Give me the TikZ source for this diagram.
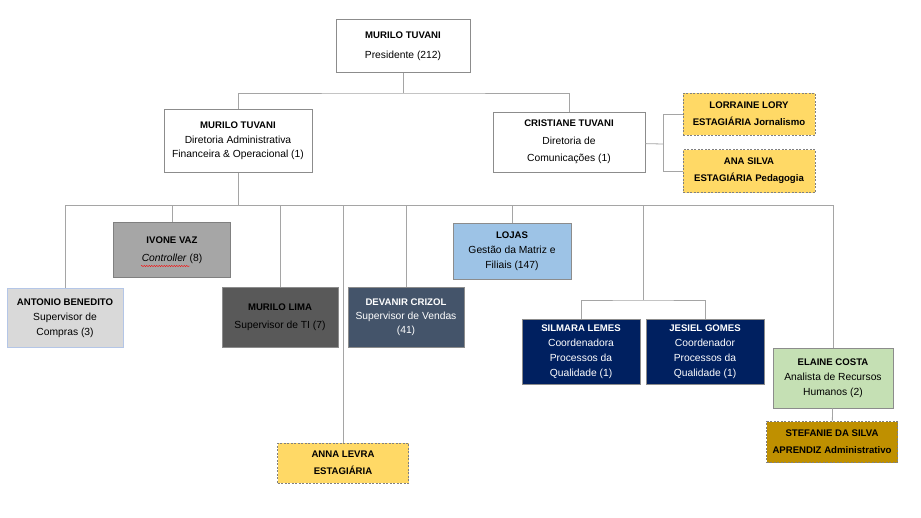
\documentclass[tikz,border=0pt]{standalone}
\usepackage{fontspec}
\setmainfont{Liberation Sans}
\usetikzlibrary{decorations.pathmorphing}
\definecolor{linegray}{HTML}{A5A5A5}
\definecolor{boxgray}{HTML}{8C8C8C}
\definecolor{compras}{HTML}{D9D9D9}
\definecolor{comprasedge}{HTML}{B4C6E7}
\definecolor{controller}{HTML}{A6A6A6}
\definecolor{ti}{HTML}{595959}
\definecolor{vendas}{HTML}{44546A}
\definecolor{lojas}{HTML}{9DC3E6}
\definecolor{qualidade}{HTML}{002060}
\definecolor{rh}{HTML}{C5E0B4}
\definecolor{aprendiz}{HTML}{BF9000}
\definecolor{estagio}{HTML}{FFD966}
\newcommand\nome[1]{{\fontsize{9.6}{16}\selectfont\bfseries #1}}
\begin{document}
\begin{tikzpicture}[x=1pt,y=-1pt,
    link/.style={draw=linegray, line width=0.8pt},
    card/.style={draw=boxgray, line width=0.9pt, align=center, inner sep=1pt,
        font=\fontsize{10.3}{16}\selectfont},
    temp/.style={card, draw=gray, fill=estagio, dash pattern=on 2pt off 1.5pt,
        font=\fontsize{9.6}{17}\selectfont\bfseries}]
    \useasboundingbox (0,0) rectangle (921,517);

    \node[card, fill=white, minimum width=134pt, minimum height=53pt, font=\fontsize{10.3}{20}\selectfont]
        (pres) at (403,46) {\nome{MURILO TUVANI}\\Presidente (212)};
    \node[card, fill=white, minimum width=148pt, minimum height=63pt, font=\fontsize{10.3}{14.5}\selectfont]
        (dirAdm) at (238,141) {\nome{MURILO TUVANI}\\Diretoria Administrativa\\Financeira \& Operacional (1)};
    \node[card, fill=white, minimum width=152pt, minimum height=60pt, font=\fontsize{10.3}{17.5}\selectfont]
        (dirCom) at (569,142) {\nome{CRISTIANE TUVANI}\\Diretoria de\\Comunicações (1)};
    \node[temp, minimum width=132pt, minimum height=42pt]
        (lorraine) at (749,114) {LORRAINE LORY\\ESTAGIÁRIA Jornalismo};
    \node[temp, minimum width=132pt, minimum height=43pt]
        (anaSilva) at (749,171) {ANA SILVA\\ESTAGIÁRIA Pedagogia};

    \node[card, draw=comprasedge, fill=compras, minimum width=116pt, minimum height=59pt, font=\fontsize{10.3}{15}\selectfont]
        (antonio) at (65,318) {\nome{ANTONIO BENEDITO}\\Supervisor de\\Compras (3)};
    \node[card, draw=gray, fill=controller, minimum width=117pt, minimum height=55pt, font=\fontsize{10.3}{18}\selectfont]
        (ivone) at (172,250) {\nome{IVONE VAZ}\\\textit{Controller} (8)};
    \node[card, fill=ti, minimum width=116pt, minimum height=60pt, font=\fontsize{10.3}{18}\selectfont]
        (muriloLima) at (280,317) {\nome{MURILO LIMA}\\Supervisor de TI (7)};
    \node[card, fill=vendas, text=white, minimum width=116pt, minimum height=60pt, font=\fontsize{10.3}{14}\selectfont]
        (devanir) at (406,317) {\nome{DEVANIR CRIZOL}\\Supervisor de Vendas\\(41)};
    \node[card, fill=lojas, minimum width=118pt, minimum height=56pt, font=\fontsize{10.3}{15}\selectfont]
        (lojas) at (512,251) {\nome{LOJAS}\\Gestão da Matriz e\\Filiais (147)};
    \node[card, fill=qualidade, text=white, minimum width=118pt, minimum height=65pt, font=\fontsize{10.3}{15}\selectfont]
        (silmara) at (581,352) {\nome{SILMARA LEMES}\\Coordenadora\\Processos da\\Qualidade (1)};
    \node[card, fill=qualidade, text=white, minimum width=118pt, minimum height=65pt, font=\fontsize{10.3}{15}\selectfont]
        (jesiel) at (705,352) {\nome{JESIEL GOMES}\\Coordenador\\Processos da\\Qualidade (1)};
    \node[card, fill=rh, minimum width=120pt, minimum height=60pt, font=\fontsize{10.3}{15}\selectfont]
        (elaine) at (833,378) {\nome{ELAINE COSTA}\\Analista de Recursos\\Humanos (2)};
    \node[temp, fill=aprendiz, minimum width=131pt, minimum height=41pt]
        (stefanie) at (832,442) {STEFANIE DA SILVA\\APRENDIZ Administrativo};
    \node[temp, minimum width=131pt, minimum height=40pt]
        (anna) at (343,463) {ANNA LEVRA\\ESTAGIÁRIA};

    \coordinate (topBus) at (403,93);
    \coordinate (comJct) at (663,144);
    \coordinate (bus) at (238,205);
    \coordinate (qualBus) at (643,300);

    \draw[link] (pres) -- (topBus);
    \draw[link] (dirAdm) |- (topBus) -| (dirCom);
    \draw[link] (dirCom) -- (comJct);
    \draw[link] (lorraine) -| (comJct);
    \draw[link] (anaSilva) -| (comJct);
    \draw[link] (dirAdm) -- (bus);
    \draw[link] (antonio) |- (bus);
    \draw[link] (ivone) |- (bus);
    \draw[link] (muriloLima) |- (bus);
    \draw[link] (anna) |- (bus);
    \draw[link] (devanir) |- (bus);
    \draw[link] (lojas) |- (bus);
    \draw[link] (elaine) |- (bus);
    \draw[link] (qualBus |- bus) -- (qualBus);
    \draw[link] (silmara) |- (qualBus) -| (jesiel);
    \draw[link] (elaine) -- (stefanie);

    \draw[red, decorate, decoration={snake, amplitude=0.6pt, segment length=2.5pt}]
        (141,266) -- (190,266);
\end{tikzpicture}
\end{document}
